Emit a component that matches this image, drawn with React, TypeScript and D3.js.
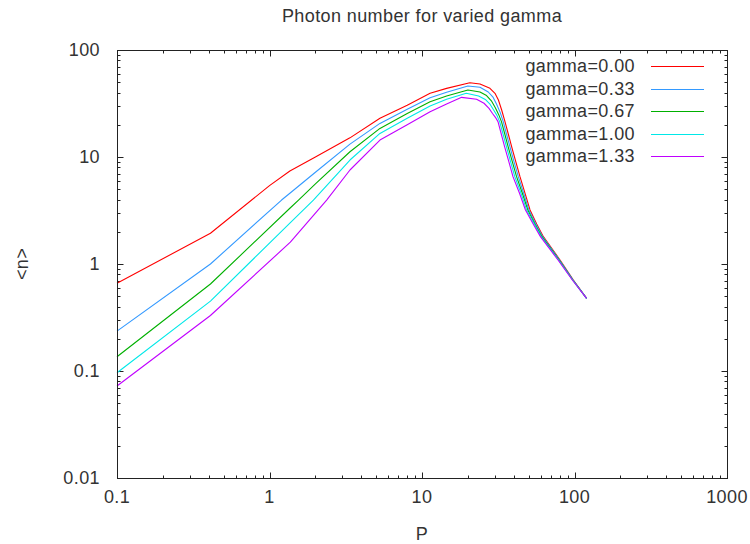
import React from 'react';
import * as d3 from 'd3';

// P values and <n> values, one list per gamma
const gamma000: [number, number][] = [
  [0.1, 0.66], [0.41, 1.94], [1.0, 5.4], [1.36, 7.4], [2.0, 10.0], [3.37, 15.1],
  [5.3, 23.0], [8.0, 30.5], [11.3, 39.4], [14.5, 43.8], [20.6, 49.5], [24.0, 48.1],
  [27.9, 43.8], [30.1, 39.4], [31.7, 34.1], [33.3, 27.5], [35.0, 21.4], [36.8, 16.4],
  [38.7, 12.5], [41.2, 9.04], [43.9, 6.55], [47.4, 4.58], [51.1, 3.2], [56.5, 2.36],
  [62.5, 1.8], [80.4, 1.09], [98.3, 0.709], [120, 0.478],
];
const gamma033: [number, number][] = [
  [0.1, 0.236], [0.41, 1.0], [1.2, 3.96], [1.36, 4.58], [2.0, 7.2], [3.37, 13.2],
  [5.3, 20.6], [8.0, 28.0], [11.3, 35.8], [14.5, 40.2], [20.0, 46.1], [24.0, 44.8],
  [27.2, 40.5], [29.3, 36.0], [30.9, 31.0], [32.6, 26.0], [34.1, 21.4], [35.8, 16.4],
  [37.7, 12.5], [40.1, 9.04], [42.8, 6.55], [46.4, 4.58], [50.2, 3.2], [55.8, 2.36],
  [61.8, 1.8], [79.8, 1.09], [97.9, 0.709], [120, 0.478],
];
const gamma067: [number, number][] = [
  [0.1, 0.136], [0.41, 0.65], [1.36, 3.32], [1.55, 3.96], [2.0, 5.6], [3.37, 11.2],
  [5.3, 18.5], [8.0, 25.5], [11.3, 32.9], [14.5, 37.2], [20.0, 42.3], [24.0, 40.5],
  [26.5, 37.5], [28.5, 33.5], [30.2, 29.0], [31.8, 25.0], [33.2, 21.4], [34.9, 16.4],
  [36.7, 12.5], [39.1, 9.04], [41.7, 6.55], [45.5, 4.58], [49.4, 3.2], [55.0, 2.36],
  [61.1, 1.8], [79.2, 1.09], [97.5, 0.709], [120, 0.478],
];
const gamma100: [number, number][] = [
  [0.1, 0.0964], [0.41, 0.45], [1.36, 2.41], [1.94, 3.96], [3.37, 9.37], [5.3, 16.6],
  [8.0, 23.0], [11.3, 30.0], [14.5, 34.6], [19.5, 39.4], [23.5, 37.2], [26.0, 34.5],
  [28.0, 31.0], [29.5, 27.5], [31.0, 24.5], [32.3, 21.4], [34.0, 16.4], [35.8, 12.5],
  [38.1, 9.04], [40.6, 6.55], [44.6, 4.58], [48.5, 3.2], [54.4, 2.36], [60.4, 1.8],
  [78.6, 1.09], [97.2, 0.709], [120, 0.478],
];
const gamma133: [number, number][] = [
  [0.1, 0.0724], [0.41, 0.33], [1.37, 1.6], [2.37, 3.96], [3.37, 7.56], [5.3, 14.4],
  [8.0, 20.0], [11.3, 26.5], [14.5, 31.3], [18.2, 36.1], [22.8, 34.6], [25.5, 31.8],
  [27.5, 28.5], [29.0, 25.5], [30.3, 23.5], [31.5, 21.4], [33.1, 16.4], [34.8, 12.5],
  [37.1, 9.04], [39.5, 6.55], [43.6, 4.58], [47.7, 3.2], [53.6, 2.36], [59.8, 1.8],
  [78.0, 1.09], [96.8, 0.709], [120, 0.478],
];

const seriesData = [gamma000, gamma033, gamma067, gamma100, gamma133];
const seriesNames = ['gamma=0.00', 'gamma=0.33', 'gamma=0.67', 'gamma=1.00', 'gamma=1.33'];
const seriesColors = ['#ff0000', '#3399ff', '#00b000', '#00e8e8', '#c000ff'];

const xTicks = [0.1, 1, 10, 100, 1000];
const xTickLabels = ['0.1', '1', '10', '100', '1000'];
const yTicks = [0.01, 0.1, 1, 10, 100];
const yTickLabels = ['0.01', '0.1', '1', '10', '100'];

const titleText = 'Photon number for varied gamma';
const xLabel = 'P';
const yLabel = '<n>';

export default function App() {
  const W = 750;
  const H = 544;
  const left = 117, right = 727, top = 50, bottom = 478;
  const x = d3.scaleLog().domain([0.1, 1000]).range([left, right]);
  const y = d3.scaleLog().domain([0.01, 100]).range([bottom, top]);
  const line = d3.line<[number, number]>().x(d => x(d[0])).y(d => y(d[1]));

  const font = '"Liberation Sans", Arial, sans-serif';
  const textColor = '#333';
  const axisColor = '#222';
  const fs = 18;
  const ls = 0.4;

  const minorX: number[] = [];
  for (let i = 0; i < xTicks.length - 1; i++) for (let k = 2; k <= 9; k++) minorX.push(xTicks[i] * k);
  const minorY: number[] = [];
  for (let i = 0; i < yTicks.length - 1; i++) for (let k = 2; k <= 9; k++) minorY.push(yTicks[i] * k);

  const px = (v: number) => Math.round(v) + 0.5;
  const L = px(left), R = px(right), T = px(top), B = px(bottom);
  const major = 6, minor = 3;

  const legendRight = 635;
  const legendY0 = 66;
  const legendDy = 22.6;
  const sampleX0 = 651, sampleX1 = 704;

  return (
    <svg width={W} height={H} style={{ position: 'absolute', left: 0, top: 0, background: '#fff' }}
      fontFamily={font}>
      <rect x={0} y={0} width={W} height={H} fill="#fff" />
      {/* ticks */}
      <g stroke={axisColor} strokeWidth={1}>
        {xTicks.map((t, i) => (
          <g key={'xt' + i}>
            <line x1={px(x(t))} x2={px(x(t))} y1={B} y2={B - major} />
            <line x1={px(x(t))} x2={px(x(t))} y1={T} y2={T + major} />
          </g>
        ))}
        {minorX.map((t, i) => (
          <g key={'xm' + i}>
            <line x1={px(x(t))} x2={px(x(t))} y1={B} y2={B - minor} />
            <line x1={px(x(t))} x2={px(x(t))} y1={T} y2={T + minor} />
          </g>
        ))}
        {yTicks.map((t, i) => (
          <g key={'yt' + i}>
            <line x1={L} x2={L + major} y1={px(y(t))} y2={px(y(t))} />
            <line x1={R} x2={R - major} y1={px(y(t))} y2={px(y(t))} />
          </g>
        ))}
        {minorY.map((t, i) => (
          <g key={'ym' + i}>
            <line x1={L} x2={L + minor} y1={px(y(t))} y2={px(y(t))} />
            <line x1={R} x2={R - minor} y1={px(y(t))} y2={px(y(t))} />
          </g>
        ))}
      </g>
      {/* series */}
      <g fill="none" strokeWidth={1.1} strokeLinejoin="round">
        {seriesData.map((s, i) => (
          <path key={'s' + i} d={line(s) || ''} stroke={seriesColors[i]} />
        ))}
      </g>
      {/* frame */}
      <rect x={L} y={T} width={R - L} height={B - T} fill="none" stroke={axisColor} strokeWidth={1} />
      {/* tick labels */}
      <g fill={textColor} fontSize={fs} letterSpacing={ls}>
        {xTicks.map((t, i) => (
          <text key={'xl' + i} x={x(t)} y={bottom + 25} textAnchor="middle">{xTickLabels[i]}</text>
        ))}
        {yTicks.map((t, i) => (
          <text key={'yl' + i} x={left - 17} y={y(t) + 6} textAnchor="end">{yTickLabels[i]}</text>
        ))}
      </g>
      {/* legend */}
      <g fontSize={fs} fill={textColor} letterSpacing={ls}>
        {seriesNames.map((n, i) => (
          <g key={'lg' + i}>
            <text x={legendRight} y={legendY0 + i * legendDy + 6} textAnchor="end">{n}</text>
            <line x1={sampleX0} x2={sampleX1} y1={Math.round(legendY0 + i * legendDy) + 0.5}
              y2={Math.round(legendY0 + i * legendDy) + 0.5} stroke={seriesColors[i]} strokeWidth={1.1} />
          </g>
        ))}
      </g>
      {/* titles */}
      <g fontSize={fs} fill={textColor} letterSpacing={ls}>
        <text x={(left + right) / 2} y={22} textAnchor="middle">{titleText}</text>
        <text x={(left + right) / 2} y={540} textAnchor="middle">{xLabel}</text>
        <text transform={`translate(28,${(top + bottom) / 2}) rotate(-90)`} textAnchor="middle">{yLabel}</text>
      </g>
    </svg>
  );
}
